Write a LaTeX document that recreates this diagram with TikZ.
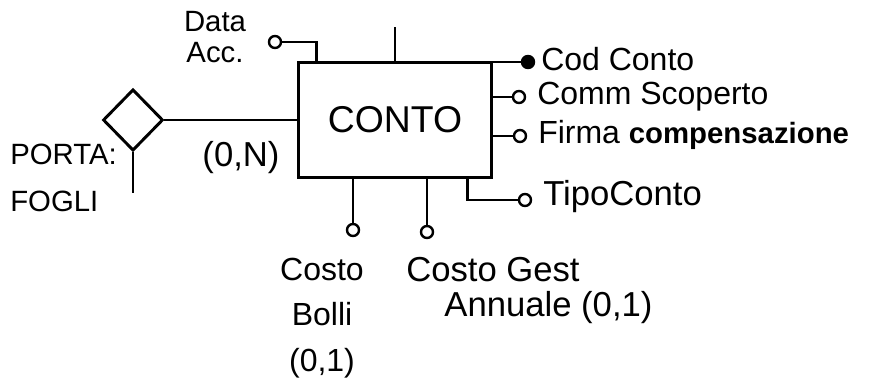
\documentclass[tikz,border=0pt]{standalone}
\usepackage{fontspec}
\setmainfont{Liberation Sans}
\usetikzlibrary{shapes.geometric,calc}

\begin{document}
\begin{tikzpicture}[
	x=0.75pt, y=-0.75pt,
	font=\fontsize{26}{30}\selectfont,
	entblock/.style={draw, line width=2.2pt, minimum width=145pt, minimum height=86pt, font=\fontsize{28}{30}\selectfont},
	relblock/.style={draw, line width=2.2pt, diamond, aspect=1, minimum width=45pt, minimum height=46pt, inner sep=0pt},
	attrdot/.style={draw, line width=1.8pt, circle, minimum size=9pt, inner sep=0pt, fill=white},
	keydot/.style={attrdot, fill=black},
	lbl/.style={inner sep=0pt},
	sidelbl/.style={lbl, anchor=west, font=\fontsize{24}{26}\selectfont},
	link/.style={line width=2.2pt}
	]
	\useasboundingbox (0,0) rectangle (869,388);
	
	% Entity
	\node[entblock] (conto) at (395,120) {CONTO};
	
	% Relationship
	\node[relblock] (porta) at (133,120) {};
	\coordinate (portaend) at (133,193);
	\node[lbl, anchor=west, align=left, font=\fontsize{22}{35}\selectfont] (portatxt) at (10,178) {PORTA:\\FOGLI};
	\node[lbl] (card) at (241,158) {(0,N)};
	
	% Attributes
	\node[attrdot] (dacc) at (275,42) {};
	\node[lbl, align=center, font=\fontsize{22}{23}\selectfont] (dacctxt) at (215,37) {Data\\Acc.};
	\coordinate (topend) at (395,27);
	\node[keydot] (cod) at (528,62) {};
	\node[sidelbl] (codtxt) at (541,59) {Cod Conto};
	\node[attrdot] (comm) at (519,97) {};
	\node[sidelbl] (commtxt) at (537,97) {Comm Scoperto};
	\node[attrdot] (firma) at (520,136) {};
	\node[sidelbl] (firmatxt) at (538,135) {Firma {\fontsize{22}{24}\selectfont\textbf{compensazione}}};
	\node[attrdot] (tipo) at (525,200) {};
	\node[sidelbl, font=\fontsize{26}{28}\selectfont] (tipotxt) at (543,197) {TipoConto};
	\node[attrdot] (bolli) at (353,230) {};
	\node[lbl, align=center, font=\fontsize{24}{34}\selectfont] (bollitxt) at (322,318) {Costo\\Bolli\\(0,1)};
	\node[attrdot] (gest) at (427,232) {};
	\node[lbl, anchor=north west, align=left, font=\fontsize{26}{26}\selectfont] (gesttxt) at (406,257) {Costo Gest\\\hspace*{1.1em}Annuale (0,1)};
	
	% Links
	\draw[link] (porta) -- (porta -| conto.west);
	\draw[link] (porta.south) -- (portaend);
	\draw[link] (dacc) -| ($(conto.north west)!0.1!(conto.north east)$);
	\draw[link] (conto.north) -- (topend);
	\draw[link] (cod) -- (cod -| conto.east);
	\draw[link] (comm) -- (comm -| conto.east);
	\draw[link] (firma) -- (firma -| conto.east);
	\draw[link] (tipo) -| ($(conto.south west)!0.87!(conto.south east)$);
	\draw[link] (bolli) -- (bolli |- conto.south);
	\draw[link] (gest) -- (gest |- conto.south);
	
\end{tikzpicture}
\end{document}
